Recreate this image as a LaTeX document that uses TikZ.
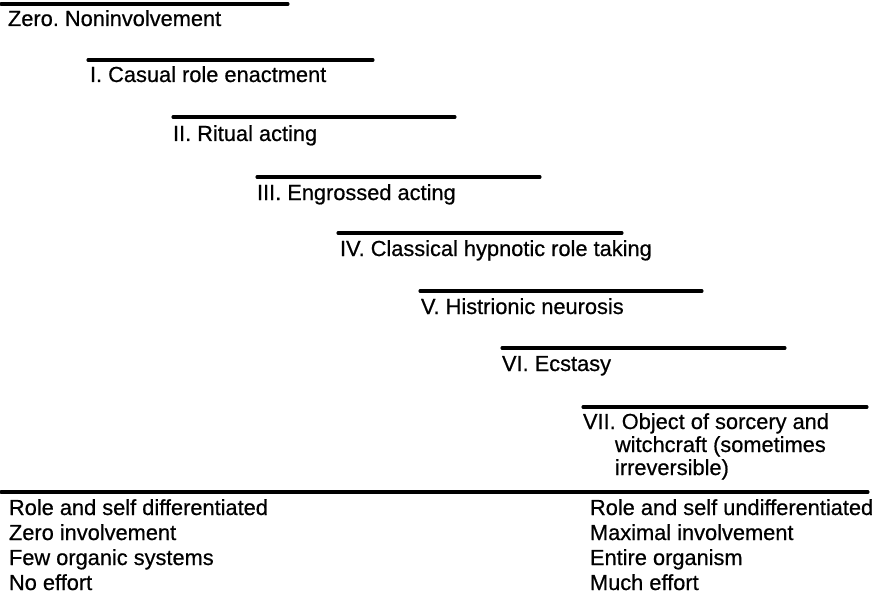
\documentclass[tikz,border=0pt]{standalone}
\usepackage{fontspec}
\setmainfont{Liberation Sans}[FakeBold=0.6]
\frenchspacing
\begin{document}
\begin{tikzpicture}[x=1pt,y=-1pt,
  levelrule/.style={line width=3.1pt,line cap=round},
  lbl/.style={anchor=base west,inner sep=0pt,outer sep=0pt,
    font=\fontsize{21.8}{25.5}\selectfont}]
\useasboundingbox (0,0) rectangle (874,596);

% staircase of involvement levels: rule above each label
\draw[levelrule] (1,4) -- (288,4);
\node[lbl] (l0) at (8,26) {Zero. Noninvolvement};

\draw[levelrule] (88,60) -- (373,60);
\node[lbl] (l1) at (90,82) {I. Casual role enactment};

\draw[levelrule] (173,117) -- (455,117);
\node[lbl] (l2) at (173,141) {II. Ritual acting};

\draw[levelrule] (257,177) -- (540,177);
\node[lbl] (l3) at (257,200) {III. Engrossed acting};

\draw[levelrule] (338,233) -- (622,233);
\node[lbl] (l4) at (340,256) {IV. Classical hypnotic role taking};

\draw[levelrule] (420,291) -- (702,291);
\node[lbl] (l5) at (421,314) {V. Histrionic neurosis};

\draw[levelrule] (502,348) -- (785,348);
\node[lbl] (l6) at (502,371) {VI. Ecstasy};

\draw[levelrule] (583,407) -- (867,407);
\node[lbl] (l7) at (583,429) {VII. Object of sorcery and};
\node[lbl] (l7b) at (615,452) {witchcraft (sometimes};
\node[lbl] (l7c) at (615,475) {irreversible)};

% baseline axis with its two poles
\draw[levelrule] (1,492) -- (868,492);
\node[lbl] (p1) at (9,515) {Role and self differentiated};
\node[lbl] (p2) at (9,540) {Zero involvement};
\node[lbl] (p3) at (9,565) {Few organic systems};
\node[lbl] (p4) at (9,590) {No effort};
\node[lbl] (q1) at (590,515) {Role and self undifferentiated};
\node[lbl] (q2) at (590,540) {Maximal involvement};
\node[lbl] (q3) at (590,565) {Entire organism};
\node[lbl] (q4) at (590,590) {Much effort};
\end{tikzpicture}
\end{document}
